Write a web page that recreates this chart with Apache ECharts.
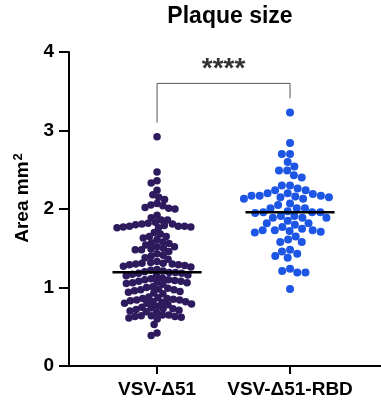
<!DOCTYPE html>
<html>
<head>
<meta charset="utf-8">
<script src="https://cdn.jsdelivr.net/npm/echarts@6/dist/echarts.min.js"></script>
<style>
  html, body { margin: 0; padding: 0; background: #fff; }
  #chart { width: 381px; height: 400px; }
</style>
</head>
<body>
<div id="chart"></div>
<script>
const categories = ['VSV-Δ51', 'VSV-Δ51-RBD']
const yTicks = [0, 1, 2, 3, 4]

// plaque area, mm2
const vsvD51 = [
  2.92, 2.47, 2.36, 2.33, 2.24, 2.18, 2.15, 2.12, 2.07, 2.05, 2.04, 2.02, 2.01, 2.00, 1.92, 1.89, 1.86, 1.86,
  1.83, 1.82, 1.81, 1.81, 1.80, 1.79, 1.78, 1.78, 1.78, 1.77, 1.77, 1.76, 1.76,
  1.70, 1.68, 1.65, 1.65, 1.63, 1.61, 1.58, 1.57, 1.56,
  1.54, 1.52, 1.52, 1.50, 1.49, 1.48, 1.48, 1.46, 1.43, 1.41, 1.40, 1.38, 1.36,
  1.33, 1.32, 1.31, 1.31, 1.30, 1.30, 1.29, 1.29, 1.28, 1.27, 1.26,
  1.23, 1.22, 1.21, 1.20, 1.19, 1.19, 1.18, 1.18, 1.17, 1.16, 1.15, 1.15,
  1.12, 1.11, 1.10, 1.10, 1.09, 1.08, 1.08, 1.07, 1.06, 1.06, 1.05, 1.04,
  1.01, 1.00, 0.99, 0.98, 0.97, 0.97, 0.96, 0.95, 0.94, 0.93, 0.92,
  0.88, 0.87, 0.86, 0.86, 0.85, 0.84, 0.84, 0.83, 0.82, 0.82, 0.81, 0.80, 0.80, 0.79, 0.78,
  0.76, 0.75, 0.74, 0.73, 0.73, 0.72, 0.71, 0.70, 0.69, 0.68,
  0.65, 0.65, 0.64, 0.64, 0.63, 0.63, 0.62, 0.61, 0.60,
  0.53, 0.42, 0.39
]
const vsvD51RBD = [
  3.23, 2.84, 2.70, 2.70, 2.60, 2.54, 2.49, 2.49, 2.43, 2.40, 2.30, 2.30, 2.26, 2.24, 2.24,
  2.20, 2.20, 2.19, 2.17, 2.17, 2.17, 2.16, 2.15, 2.15, 2.13, 2.13, 2.07, 2.05,
  2.01, 2.01, 2.01, 1.97, 1.96, 1.96, 1.96, 1.95, 1.91, 1.91, 1.89, 1.89, 1.89, 1.85,
  1.82, 1.82, 1.80, 1.77, 1.75, 1.73, 1.73, 1.73, 1.72, 1.71, 1.70, 1.65, 1.61, 1.58, 1.58,
  1.48, 1.46, 1.43, 1.40, 1.38, 1.24, 1.21, 1.19, 1.19, 0.98
]

// significance bracket
const bracketTop = 3.6
const bracketLeftEnd = 3.1
const bracketRightEnd = 3.41
const starsY = 3.78
const starsText = '****'

const font = 'Liberation Sans, Arial, sans-serif'
const grid = { left: 69, right: 0, top: 52, bottom: 34 }
const xMin = 0.338
const xMax = 2.684
const W = 381, H = 400

function median(arr) {
  const s = [...arr].sort((a, b) => a - b)
  const m = Math.floor(s.length / 2)
  return s.length % 2 ? s[m] : (s[m - 1] + s[m]) / 2
}

// simple beeswarm: put each point as close to the centre as it can go without overlapping
function swarm(values, center, diam) {
  const pxY = (H - grid.top - grid.bottom) / 4
  const pxX = (W - grid.left - grid.right) / (xMax - xMin)
  const order = values.map((v, i) => i).sort((a, b) => values[b] - values[a])
  const placed = []
  const out = []
  order.forEach(i => {
    const y = values[i] * pxY
    const blocks = []
    placed.forEach(p => {
      const dy = Math.abs(p.y - y)
      if (dy < diam) {
        const w = Math.sqrt(diam * diam - dy * dy)
        blocks.push([p.x - w, p.x + w])
      }
    })
    const cands = [0]
    blocks.forEach(b => cands.push(b[0], b[1]))
    cands.sort((a, b) => Math.abs(a) - Math.abs(b))
    let x = 0
    for (const c of cands) {
      if (!blocks.some(b => c > b[0] + 1e-6 && c < b[1] - 1e-6)) { x = c; break }
    }
    placed.push({ x, y })
    out.push([center + x / pxX, values[i]])
  })
  return out
}

const chart = echarts.init(document.getElementById('chart'))

const med1 = median(vsvD51)
const med2 = median(vsvD51RBD)
const halfLine = 0.335

const option = {
  animation: false,
  title: {
    text: 'Plaque size',
    left: 225,
    textAlign: 'center',
    top: 0,
    textStyle: { fontFamily: font, fontSize: 23, fontWeight: 'bold', color: '#000' }
  },
  grid: grid,
  xAxis: {
    type: 'value',
    min: xMin,
    max: xMax,
    axisLine: { lineStyle: { color: '#000', width: 2 } },
    axisTick: { customValues: [1, 2], length: 8, lineStyle: { color: '#000', width: 2 } },
    axisLabel: {
      customValues: [1, 2],
      formatter: v => categories[Math.round(v) - 1] || '',
      margin: 14,
      fontFamily: font,
      fontSize: 19,
      fontWeight: 'bold',
      color: '#000'
    },
    splitLine: { show: false }
  },
  yAxis: {
    type: 'value',
    min: 0,
    max: 4,
    interval: 1,
    name: 'Area mm{sup|2}',
    nameLocation: 'middle',
    nameGap: 35,
    nameTextStyle: {
      fontFamily: font, fontSize: 19, fontWeight: 'bold', color: '#000',
      padding: [0, 0, 0, 22],
      rich: {
        sup: { fontFamily: font, fontSize: 13, fontWeight: 'bold', color: '#000', padding: [0, 0, 9, 1] }
      }
    },
    axisLine: { show: true, lineStyle: { color: '#000', width: 2 } },
    axisTick: { show: true, length: 10, lineStyle: { color: '#000', width: 2 } },
    axisLabel: {
      formatter: v => yTicks.includes(v) ? String(v) : '',
      margin: 15,
      fontFamily: font,
      fontSize: 19,
      fontWeight: 'bold',
      color: '#000'
    },
    splitLine: { show: false }
  },
  series: [
    {
      type: 'scatter',
      data: swarm(vsvD51, 1, 6.3),
      symbolSize: 7.5,
      itemStyle: { color: '#2d1b5e', opacity: 1 }
    },
    {
      type: 'scatter',
      data: swarm(vsvD51RBD, 2, 8.2),
      symbolSize: 8,
      itemStyle: { color: '#1d55e5', opacity: 1 }
    },
    {
      type: 'line',
      data: [[1 - halfLine, med1], [1 + halfLine, med1]],
      symbol: 'none',
      lineStyle: { color: '#000', width: 2.5 },
      z: 5
    },
    {
      type: 'line',
      data: [[2 - halfLine, med2], [2 + halfLine, med2]],
      symbol: 'none',
      lineStyle: { color: '#000', width: 2.5 },
      z: 5
    },
    {
      type: 'line',
      data: [[1, bracketLeftEnd], [1, bracketTop], [2, bracketTop], [2, bracketRightEnd]],
      symbol: 'none',
      lineStyle: { color: '#555', width: 1 }
    },
    {
      type: 'scatter',
      data: [[1.5, starsY]],
      symbolSize: 0,
      label: {
        show: true,
        position: 'inside',
        formatter: starsText,
        fontFamily: font,
        fontSize: 28,
        fontWeight: 'bold',
        color: '#000'
      }
    }
  ]
}

chart.setOption(option)
</script>
</body>
</html>
